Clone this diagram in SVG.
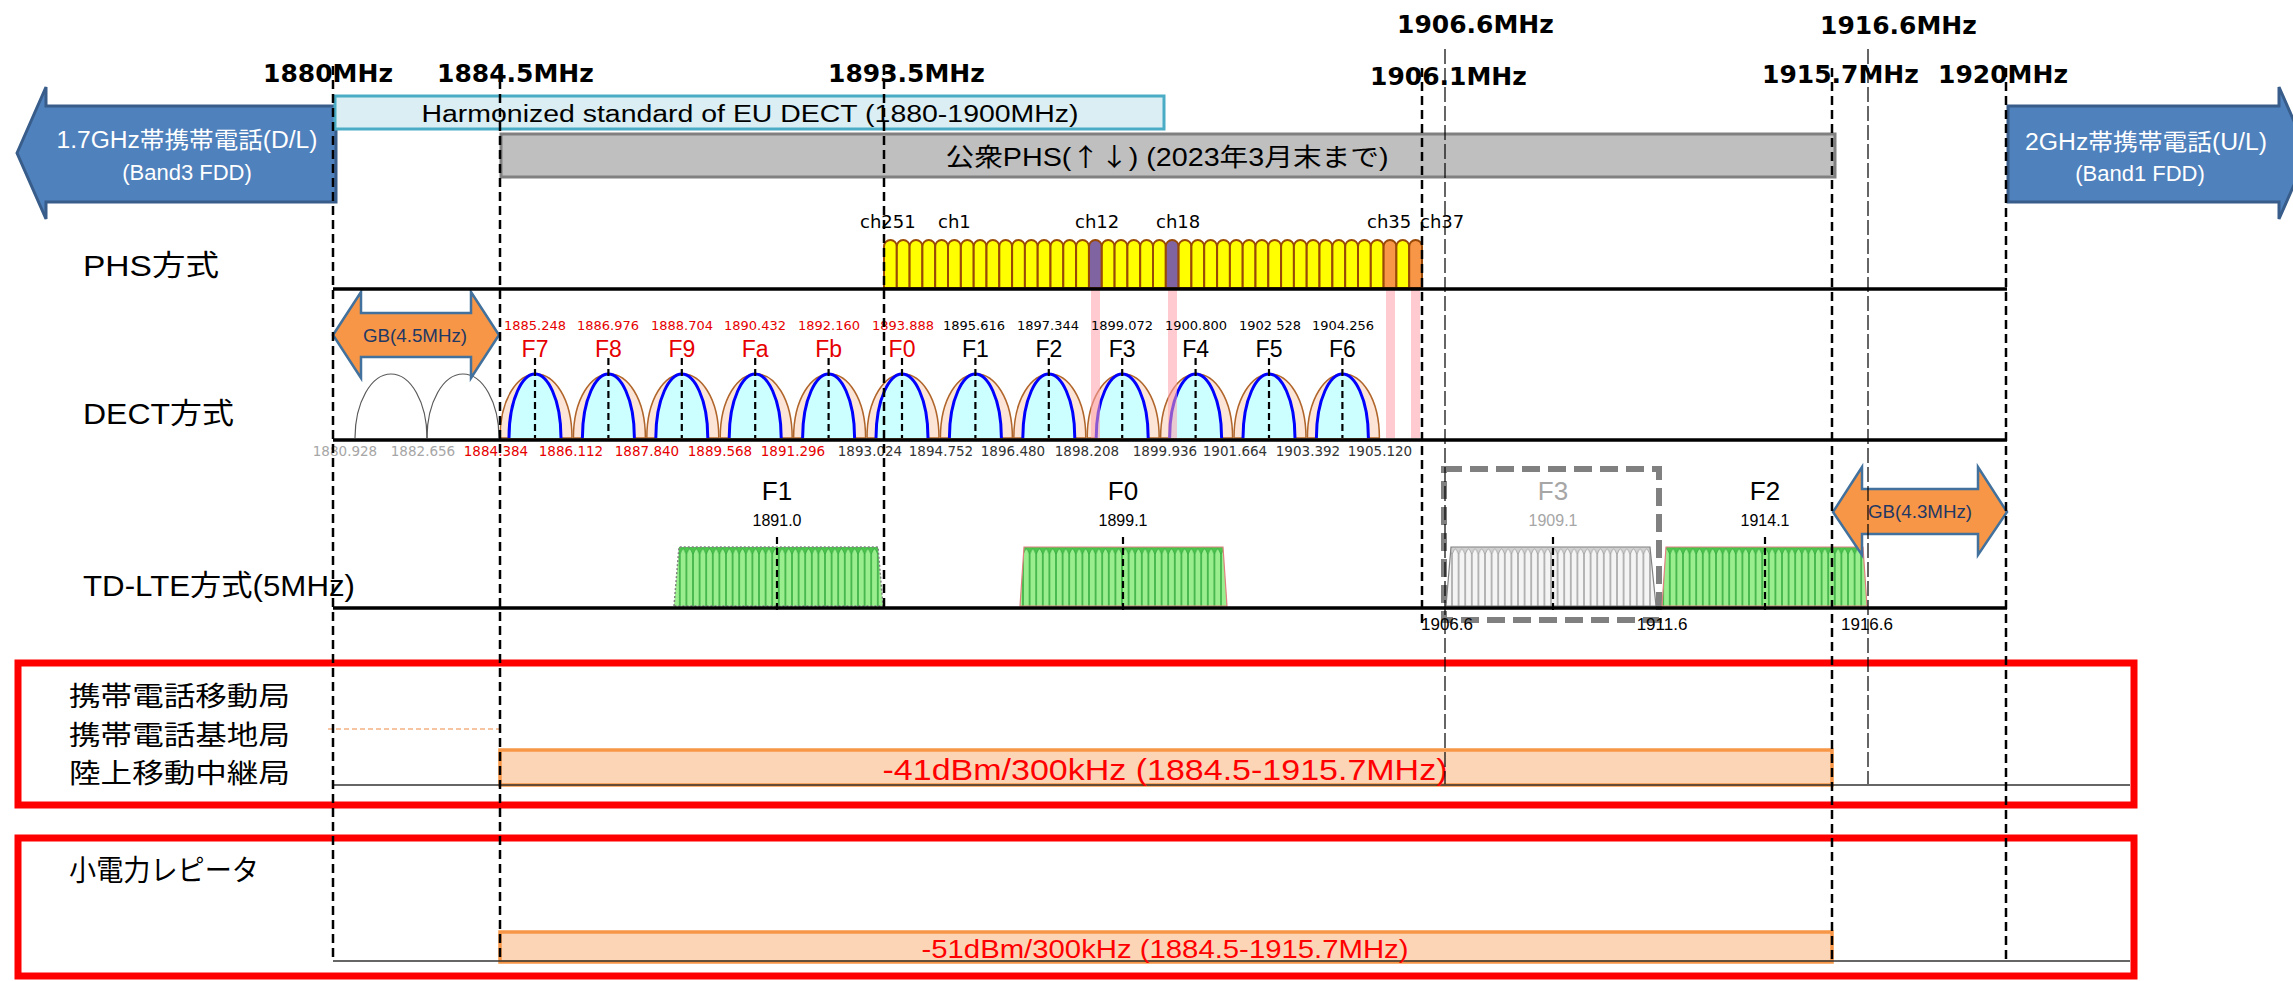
<svg xmlns="http://www.w3.org/2000/svg" width="2293" height="981" viewBox="0 0 2293 981">
<defs>
<style>
.ax{font-family:"DejaVu Sans",sans-serif;font-weight:bold;font-size:25px;fill:#000}
.sn{font-family:"Liberation Sans","Noto Sans CJK JP",sans-serif}
.cj{font-family:"Noto Sans CJK JP",sans-serif}
.th{font-family:"DejaVu Sans",sans-serif}
.g1{stroke:#000;stroke-width:2.5;stroke-dasharray:9 5;fill:none}
.g2{stroke:#000;stroke-width:1.2;stroke-dasharray:15 4;fill:none}
.hl{stroke:#000;stroke-width:3.5;fill:none}
.bl{stroke:#333;stroke-width:1.5;fill:none}
.py{fill:#FFFF00;stroke:#984807;stroke-width:2}
.pp{fill:#8064A2;stroke:#984807;stroke-width:2}
.po{fill:#F79646;stroke:#984807;stroke-width:2}
.pk{fill:#FF9FAA;opacity:0.55}
.ga{fill:#F79646;stroke:#41719C;stroke-width:2.5}
.bar{fill:#FBD5B5;stroke:#F79646;stroke-width:3.5}
.rb{fill:none;stroke:#FF0000;stroke-width:7}
.cd{stroke:#000;stroke-width:2.2;stroke-dasharray:7 4}
.red{fill:#E60000}
.blk{fill:#000}
.gry{fill:#A6A6A6}
</style>
<path id="phs" d="M0,0 V-41.6 A6.4,6.4 0 0 1 12.8,-41.6 V0 Z"/>
<g id="dect">
<path d="M-35,0 C-35,-40 -17,-64 1,-64 C19,-64 37,-40 37,0 Z" fill="#FCE4D6" stroke="#B0652A" stroke-width="1.5"/>
<path d="M-26,0 C-26,-40 -12,-64 0,-64 C12,-64 26,-40 26,0" fill="#CCFFFF" stroke="#0000FF" stroke-width="3"/>
<line x1="0" y1="-80" x2="0" y2="0" class="cd"/>
</g>
<pattern id="pg" patternUnits="userSpaceOnUse" x="0" y="547" width="6.6" height="60">
<rect width="6.6" height="60" fill="#4CC54C"/>
<path d="M0.3,60 V7 Q3.3,-3 6.3,7 V60 Z" fill="#9AEE8E" stroke="#1E9A30" stroke-width="0.7"/>
</pattern>
<pattern id="pw" patternUnits="userSpaceOnUse" x="0" y="547" width="6.6" height="60">
<rect width="6.6" height="60" fill="#D0D0D0"/>
<path d="M0.3,60 V7 Q3.3,-3 6.3,7 V60 Z" fill="#F4F4F4" stroke="#8C8C8C" stroke-width="0.7"/>
</pattern>
</defs>
<rect width="2293" height="981" fill="#FFFFFF"/>

<g id="band-arrows">
<g id="left-arrow">
<path d="M17,153 L46,87 L46,106 L336,106 L336,202 L46,202 L46,219 Z" fill="#4F81BD" stroke="#385D8A" stroke-width="3"/>
<text class="sn" x="187" y="148" font-size="23" fill="#FFFFFF" text-anchor="middle" textLength="261" lengthAdjust="spacingAndGlyphs">1.7GHz帯携帯電話(D/L)</text>
<text class="sn" x="187" y="180" font-size="22" fill="#FFFFFF" text-anchor="middle">(Band3 FDD)</text>
</g>
<g id="right-arrow">
<path d="M2008,106 L2279,106 L2279,87 L2308,153 L2279,219 L2279,202 L2008,202 Z" fill="#4F81BD" stroke="#385D8A" stroke-width="3"/>
<text class="sn" x="2146" y="150" font-size="23" fill="#FFFFFF" text-anchor="middle" textLength="242" lengthAdjust="spacingAndGlyphs">2GHz帯携帯電話(U/L)</text>
<text class="sn" x="2140" y="181" font-size="22" fill="#FFFFFF" text-anchor="middle">(Band1 FDD)</text>
</g>
</g>

<g id="eu-dect">
<rect x="335" y="96" width="829" height="33" fill="#DAEEF3" stroke="#4BACC6" stroke-width="3"/>
<text class="sn" x="750" y="122" font-size="23" text-anchor="middle" textLength="657" lengthAdjust="spacingAndGlyphs">Harmonized standard of EU DECT (1880-1900MHz)</text>
</g>
<g id="public-phs">
<rect x="501" y="134" width="1334" height="43" fill="#BFBFBF" stroke="#808080" stroke-width="3"/>
<text class="sn" x="1167" y="166" font-size="25" text-anchor="middle" textLength="443" lengthAdjust="spacingAndGlyphs">公衆PHS(<tspan class="cj">↑↓</tspan>) (2023年3月末まで)</text>
</g>

<g id="row-labels" class="sn" font-size="29">
<text x="83" y="276" textLength="136" lengthAdjust="spacingAndGlyphs">PHS方式</text>
<text x="83" y="424" textLength="151" lengthAdjust="spacingAndGlyphs">DECT方式</text>
<text x="83" y="596" textLength="272" lengthAdjust="spacingAndGlyphs">TD-LTE方式(5MHz)</text>
</g>

<g id="phs-row">
<g id="phs-channels">
<use href="#phs" class="py" x="884.0" y="288"/><use href="#phs" class="py" x="896.8" y="288"/><use href="#phs" class="py" x="909.6" y="288"/><use href="#phs" class="py" x="922.4" y="288"/><use href="#phs" class="py" x="935.2" y="288"/><use href="#phs" class="py" x="948.0" y="288"/><use href="#phs" class="py" x="960.9" y="288"/><use href="#phs" class="py" x="973.7" y="288"/><use href="#phs" class="py" x="986.5" y="288"/><use href="#phs" class="py" x="999.3" y="288"/><use href="#phs" class="py" x="1012.1" y="288"/><use href="#phs" class="py" x="1024.9" y="288"/><use href="#phs" class="py" x="1037.7" y="288"/><use href="#phs" class="py" x="1050.5" y="288"/><use href="#phs" class="py" x="1063.3" y="288"/><use href="#phs" class="py" x="1076.1" y="288"/><use href="#phs" class="pp" x="1089.0" y="288"/><use href="#phs" class="py" x="1101.8" y="288"/><use href="#phs" class="py" x="1114.6" y="288"/><use href="#phs" class="py" x="1127.4" y="288"/><use href="#phs" class="py" x="1140.2" y="288"/><use href="#phs" class="py" x="1153.0" y="288"/><use href="#phs" class="pp" x="1165.8" y="288"/><use href="#phs" class="py" x="1178.6" y="288"/><use href="#phs" class="py" x="1191.4" y="288"/><use href="#phs" class="py" x="1204.2" y="288"/><use href="#phs" class="py" x="1217.1" y="288"/><use href="#phs" class="py" x="1229.9" y="288"/><use href="#phs" class="py" x="1242.7" y="288"/><use href="#phs" class="py" x="1255.5" y="288"/><use href="#phs" class="py" x="1268.3" y="288"/><use href="#phs" class="py" x="1281.1" y="288"/><use href="#phs" class="py" x="1293.9" y="288"/><use href="#phs" class="py" x="1306.7" y="288"/><use href="#phs" class="py" x="1319.5" y="288"/><use href="#phs" class="py" x="1332.4" y="288"/><use href="#phs" class="py" x="1345.2" y="288"/><use href="#phs" class="py" x="1358.0" y="288"/><use href="#phs" class="py" x="1370.8" y="288"/><use href="#phs" class="po" x="1383.6" y="288"/><use href="#phs" class="py" x="1396.4" y="288"/><use href="#phs" class="po" x="1409.2" y="288"/>
</g>
<g id="phs-labels" class="th" font-size="18">
<text x="860" y="228">ch251</text>
<text x="938" y="228">ch1</text>
<text x="1075" y="228">ch12</text>
<text x="1156" y="228">ch18</text>
<text x="1367" y="228">ch35</text>
<text x="1420" y="228">ch37</text>
</g>
</g>

<g id="dect-row">
<path d="M355,438 A36,64 0 0 1 427,438" fill="none" stroke="#595959" stroke-width="1.2"/>
<path d="M427,438 A36,64 0 0 1 499,438" fill="none" stroke="#595959" stroke-width="1.2"/>
<use href="#dect" x="535" y="438"/><use href="#dect" x="608.4" y="438"/><use href="#dect" x="681.8" y="438"/><use href="#dect" x="755.2" y="438"/><use href="#dect" x="828.6" y="438"/><use href="#dect" x="902" y="438"/><use href="#dect" x="975.4" y="438"/><use href="#dect" x="1048.8" y="438"/><use href="#dect" x="1122.2" y="438"/><use href="#dect" x="1195.6" y="438"/><use href="#dect" x="1269" y="438"/><use href="#dect" x="1342.4" y="438"/>
<g id="pink-bands">
<rect class="pk" x="1091" y="290" width="9" height="148"/>
<rect class="pk" x="1168" y="290" width="9" height="148"/>
<rect class="pk" x="1386" y="290" width="9" height="148"/>
<rect class="pk" x="1411" y="290" width="9" height="148"/>
</g>
<g id="dect-names" class="sn" font-size="23" text-anchor="middle">
<text class="red" x="535" y="357">F7</text><text class="red" x="608.4" y="357">F8</text><text class="red" x="681.8" y="357">F9</text><text class="red" x="755.2" y="357">Fa</text><text class="red" x="828.6" y="357">Fb</text><text class="red" x="902" y="357">F0</text>
<text x="975.4" y="357">F1</text><text x="1048.8" y="357">F2</text><text x="1122.2" y="357">F3</text><text x="1195.6" y="357">F4</text><text x="1269" y="357">F5</text><text x="1342.4" y="357">F6</text>
</g>
<g id="dect-top-freq" class="th" font-size="13" text-anchor="middle">
<text class="red" x="535" y="330">1885.248</text><text class="red" x="608" y="330">1886.976</text><text class="red" x="682" y="330">1888.704</text><text class="red" x="755" y="330">1890.432</text><text class="red" x="829" y="330">1892.160</text><text class="red" x="903" y="330">1893.888</text>
<text x="974" y="330">1895.616</text><text x="1048" y="330">1897.344</text><text x="1122" y="330">1899.072</text><text x="1196" y="330">1900.800</text><text x="1270" y="330">1902 528</text><text x="1343" y="330">1904.256</text>
</g>
<g id="dect-bottom-freq" class="th" font-size="13.5" text-anchor="middle">
<text class="gry" x="345" y="456">1880.928</text><text class="gry" x="423" y="456">1882.656</text>
<text class="red" x="496" y="456">1884.384</text><text class="red" x="571" y="456">1886.112</text><text class="red" x="647" y="456">1887.840</text><text class="red" x="720" y="456">1889.568</text><text class="red" x="793" y="456">1891.296</text>
<text fill="#333" x="870" y="456">1893.024</text><text fill="#333" x="941" y="456">1894.752</text><text fill="#333" x="1013" y="456">1896.480</text><text fill="#333" x="1087" y="456">1898.208</text><text fill="#333" x="1165" y="456">1899.936</text><text fill="#333" x="1235" y="456">1901.664</text><text fill="#333" x="1308" y="456">1903.392</text><text fill="#333" x="1380" y="456">1905.120</text>
</g>
<g id="gb45">
<path class="ga" d="M333,335 L361,292 L361,313 L471,313 L471,292 L499,335 L471,378 L471,357 L361,357 L361,378 Z"/>
<text class="sn" x="415" y="342" font-size="19" fill="#1F3864" text-anchor="middle" textLength="104" lengthAdjust="spacingAndGlyphs">GB(4.5MHz)</text>
</g>
</g>

<g id="lte-row">
<g id="lte-f1">
<path d="M674,606 L679,547 L878,547 L883,606 Z" fill="url(#pg)" stroke="#808080" stroke-width="1.5" stroke-dasharray="2 2"/>
<line x1="777" y1="537" x2="777" y2="612" class="cd"/>
<text class="sn" x="777" y="500" font-size="26" text-anchor="middle">F1</text>
<text class="sn" x="777" y="526" font-size="16" text-anchor="middle">1891.0</text>
</g>
<g id="lte-f0">
<path d="M1020,606 L1024,547 L1223,547 L1227,606 Z" fill="url(#pg)" stroke="#E08080" stroke-width="1.2"/>
<line x1="1123" y1="537" x2="1123" y2="612" class="cd"/>
<text class="sn" x="1123" y="500" font-size="26" text-anchor="middle">F0</text>
<text class="sn" x="1123" y="526" font-size="16" text-anchor="middle">1899.1</text>
</g>
<g id="lte-f3">
<path d="M1446,606 L1451,547 L1650,547 L1656,606 Z" fill="url(#pw)" stroke="#808080" stroke-width="1.2"/>
<line x1="1553" y1="537" x2="1553" y2="612" class="cd"/>
<text class="sn gry" x="1553" y="500" font-size="26" text-anchor="middle">F3</text>
<text class="sn gry" x="1553" y="526" font-size="16" text-anchor="middle">1909.1</text>
<rect x="1444" y="469" width="215" height="151" fill="none" stroke="#808080" stroke-width="6" stroke-dasharray="18 8"/>
</g>
<g id="lte-f2">
<path d="M1662,606 L1666,547 L1863,547 L1867,606 Z" fill="url(#pg)" stroke="#E08080" stroke-width="1.2"/>
<line x1="1765" y1="537" x2="1765" y2="612" class="cd"/>
<text class="sn" x="1765" y="500" font-size="26" text-anchor="middle">F2</text>
<text class="sn" x="1765" y="526" font-size="16" text-anchor="middle">1914.1</text>
</g>
<g id="lte-bottom-freq" class="sn" font-size="17" text-anchor="middle">
<text x="1447" y="630">1906.6</text><text x="1662" y="630">1911.6</text><text x="1867" y="630">1916.6</text>
</g>
<g id="gb43">
<path class="ga" d="M1833,512 L1862,467 L1862,489 L1978,489 L1978,467 L2007,512 L1978,555 L1978,534 L1862,534 L1862,555 Z"/>
<text class="sn" x="1920" y="518" font-size="19" fill="#1F3864" text-anchor="middle" textLength="104" lengthAdjust="spacingAndGlyphs">GB(4.3MHz)</text>
</g>
</g>

<g id="row-lines">
<line class="hl" x1="333" y1="289" x2="2007" y2="289"/>
<line class="hl" x1="333" y1="440" x2="2007" y2="440"/>
<line class="hl" x1="333" y1="608" x2="2007" y2="608"/>
</g>

<g id="box-mobile">
<rect class="rb" x="18" y="663" width="2116" height="142"/>
<text class="cj" x="69" y="706" font-size="27" textLength="221" lengthAdjust="spacingAndGlyphs">携帯電話移動局</text>
<text class="cj" x="69" y="745" font-size="27" textLength="221" lengthAdjust="spacingAndGlyphs">携帯電話基地局</text>
<text class="cj" x="69" y="783" font-size="27" textLength="221" lengthAdjust="spacingAndGlyphs">陸上移動中継局</text>
<line x1="328" y1="729" x2="500" y2="729" stroke="#F4B183" stroke-width="1.5" stroke-dasharray="5 3"/>
<rect class="bar" x="500" y="750" width="1332" height="35"/>
<line class="bl" x1="333" y1="785" x2="2130" y2="785"/>
<text class="sn" x="1165" y="780" font-size="30" fill="#FF0000" text-anchor="middle" textLength="565" lengthAdjust="spacingAndGlyphs">-41dBm/300kHz (1884.5-1915.7MHz)</text>
</g>
<g id="box-repeater">
<rect class="rb" x="18" y="838" width="2116" height="138"/>
<text class="cj" x="69" y="881" font-size="29" textLength="190" lengthAdjust="spacingAndGlyphs">小電力レピータ</text>
<rect class="bar" x="500" y="932" width="1332" height="30"/>
<line class="bl" x1="333" y1="961" x2="2130" y2="961"/>
<text class="sn" x="1165" y="958" font-size="26" fill="#FF0000" text-anchor="middle" textLength="487" lengthAdjust="spacingAndGlyphs">-51dBm/300kHz (1884.5-1915.7MHz)</text>
</g>

<g id="axis-labels">
<text class="ax" x="263" y="82">1880MHz</text>
<text class="ax" x="437" y="82">1884.5MHz</text>
<text class="ax" x="828" y="82">1893.5MHz</text>
<text class="ax" x="1397" y="33">1906.6MHz</text>
<text class="ax" x="1370" y="85">1906.1MHz</text>
<text class="ax" x="1820" y="34">1916.6MHz</text>
<text class="ax" x="1762" y="83">1915.7MHz</text>
<text class="ax" x="1938" y="83">1920MHz</text>
</g>

<g id="connectors">
<line class="g1" x1="333" y1="66" x2="333" y2="962"/>
<line class="g1" x1="500" y1="66" x2="500" y2="962"/>
<line class="g1" x1="884" y1="66" x2="884" y2="610"/>
<line class="g1" x1="1422" y1="68" x2="1422" y2="628"/>
<line class="g1" x1="1832" y1="68" x2="1832" y2="962"/>
<line class="g1" x1="2006" y1="68" x2="2006" y2="962"/>
<line class="g2" x1="1445" y1="49" x2="1445" y2="784"/>
<line class="g2" x1="1868" y1="49" x2="1868" y2="784"/>
</g>
</svg>
